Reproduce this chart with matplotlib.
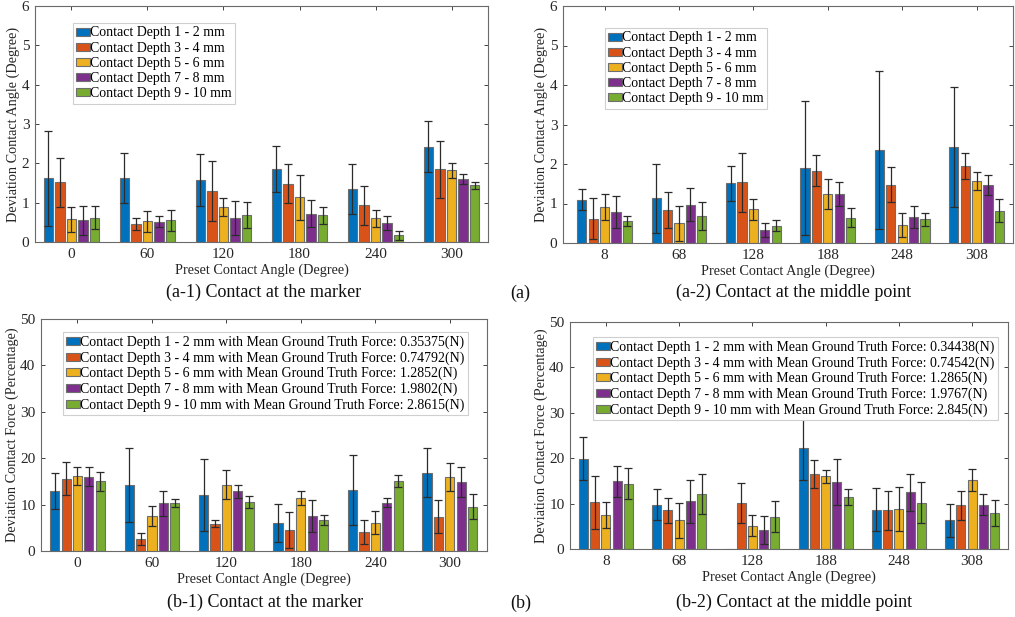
import numpy as np
import matplotlib
matplotlib.use("Agg")
import matplotlib.pyplot as plt

plt.rcParams['font.family'] = ['Liberation Serif', 'DejaVu Serif']

colors = ['#0072BD', '#D95319', '#EDB120', '#7E2F8E', '#77AC30']

ticks_a1 = ['0', '60', '120', '180', '240', '300']
ticks_a2 = ['8', '68', '128', '188', '248', '308']

legend_a = ['Contact Depth 1 - 2 mm', 'Contact Depth 3 - 4 mm', 'Contact Depth 5 - 6 mm',
            'Contact Depth 7 - 8 mm', 'Contact Depth 9 - 10 mm']
legend_b1 = ['Contact Depth 1 - 2 mm with Mean Ground Truth Force: 0.35375(N)',
             'Contact Depth 3 - 4 mm with Mean Ground Truth Force: 0.74792(N)',
             'Contact Depth 5 - 6 mm with Mean Ground Truth Force: 1.2852(N)',
             'Contact Depth 7 - 8 mm with Mean Ground Truth Force: 1.9802(N)',
             'Contact Depth 9 - 10 mm with Mean Ground Truth Force: 2.8615(N)']
legend_b2 = ['Contact Depth 1 - 2 mm with Mean Ground Truth Force: 0.34438(N)',
             'Contact Depth 3 - 4 mm with Mean Ground Truth Force: 0.74542(N)',
             'Contact Depth 5 - 6 mm with Mean Ground Truth Force: 1.2865(N)',
             'Contact Depth 7 - 8 mm with Mean Ground Truth Force: 1.9767(N)',
             'Contact Depth 9 - 10 mm with Mean Ground Truth Force: 2.845(N)']

# rows: depth series (1-2, 3-4, 5-6, 7-8, 9-10); columns: angle groups
a1_mean = [[1.62, 1.63, 1.58, 1.85, 1.35, 2.42],
           [1.52, 0.45, 1.30, 1.48, 0.93, 1.85],
           [0.58, 0.53, 0.88, 1.14, 0.60, 1.82],
           [0.55, 0.52, 0.62, 0.72, 0.48, 1.60],
           [0.62, 0.55, 0.68, 0.68, 0.17, 1.44]]
a1_err = [[1.21, 0.63, 0.66, 0.58, 0.64, 0.65],
          [0.62, 0.15, 0.77, 0.50, 0.50, 0.73],
          [0.32, 0.27, 0.23, 0.57, 0.21, 0.20],
          [0.37, 0.14, 0.43, 0.35, 0.17, 0.12],
          [0.29, 0.27, 0.33, 0.21, 0.11, 0.09]]

a2_mean = [[1.10, 1.13, 1.51, 1.89, 2.36, 2.43],
           [0.62, 0.83, 1.54, 1.83, 1.48, 1.96],
           [0.90, 0.50, 0.85, 1.23, 0.45, 1.58],
           [0.78, 0.97, 0.33, 1.24, 0.65, 1.47],
           [0.55, 0.69, 0.44, 0.64, 0.60, 0.82]]
a2_err = [[0.26, 0.87, 0.45, 1.70, 2.00, 1.51],
          [0.52, 0.46, 0.75, 0.39, 0.45, 0.33],
          [0.33, 0.44, 0.27, 0.38, 0.30, 0.23],
          [0.41, 0.41, 0.17, 0.30, 0.28, 0.26],
          [0.13, 0.36, 0.14, 0.24, 0.16, 0.29]]

b1_mean = [[12.9, 14.3, 12.1, 6.0, 13.1, 16.9],
           [15.6, 2.6, 5.9, 4.5, 4.1, 7.4],
           [16.2, 7.5, 14.3, 11.4, 6.1, 15.9],
           [16.0, 10.3, 12.9, 7.6, 10.4, 14.8],
           [15.0, 10.4, 10.5, 6.6, 15.1, 9.5]]
b1_err = [[3.9, 8.0, 7.8, 4.1, 7.5, 5.2],
          [3.6, 1.2, 0.7, 3.8, 2.5, 3.5],
          [1.9, 2.1, 3.2, 1.5, 2.5, 3.0],
          [2.0, 2.7, 1.4, 3.4, 1.0, 3.2],
          [2.1, 0.9, 1.3, 1.1, 1.2, 2.7]]

b2_mean = [[19.9, 9.8, np.nan, 22.2, 8.7, 6.3],
           [10.3, 8.5, 10.2, 16.5, 8.5, 9.6],
           [7.5, 6.3, 5.1, 16.0, 8.8, 15.2],
           [14.9, 10.5, 4.2, 14.7, 12.5, 9.8],
           [14.4, 12.1, 7.1, 11.4, 10.2, 7.9]]
b2_err = [[4.7, 3.5, np.nan, 6.9, 4.7, 3.7],
          [5.8, 2.8, 4.4, 3.1, 4.3, 3.2],
          [2.9, 3.9, 2.3, 1.4, 4.9, 2.4],
          [3.4, 4.7, 3.0, 5.1, 4.1, 2.3],
          [3.4, 4.4, 3.4, 1.8, 4.5, 2.9]]

W, H = 1015, 617
fig = plt.figure(figsize=(W / 100, H / 100), dpi=100)


def axes_px(x0, y0, x1, y1):
    return fig.add_axes([x0 / W, 1 - y1 / H, (x1 - x0) / W, (y1 - y0) / H])


def panel(ax, mean, err, ticks, ymax, ystep, ylabel, labels, leg_xy, xlim):
    x = np.arange(len(ticks))
    step, width = 0.153, 0.123
    for i in range(5):
        pos = x + (i - 2) * step
        m = np.array(mean[i], dtype=float)
        e = np.array(err[i], dtype=float)
        ax.bar(pos, np.nan_to_num(m), width, color=colors[i], edgecolor='#6e6e6e',
               linewidth=0.8, label=labels[i], zorder=2)
        ax.errorbar(pos, m, yerr=e, fmt='none', ecolor='#2b2b2b', elinewidth=0.9,
                    capsize=2.6, capthick=0.9, zorder=3)
    ax.set_xlim(*xlim)
    ax.set_ylim(0, ymax)
    ax.set_yticks(np.arange(0, ymax + 0.001, ystep))
    ax.set_xticks(x)
    ax.set_xticklabels(ticks)
    ax.tick_params(direction='in', top=True, right=True, length=3, width=0.6,
                   colors='#262626', labelsize=11, pad=4)
    for s in ax.spines.values():
        s.set_color('#6a6a6a')
        s.set_linewidth(0.8)
    ax.set_xlabel('Preset Contact Angle (Degree)', fontsize=10.3, color='#262626', labelpad=2)
    ax.set_ylabel(ylabel, fontsize=10.3, color='#262626', labelpad=1)
    leg = ax.legend(loc='upper left', bbox_to_anchor=(leg_xy[0] / W, 1 - leg_xy[1] / H),
                    bbox_transform=fig.transFigure, borderaxespad=0, fontsize=10,
                    handlelength=0.95, handleheight=0.5, handletextpad=0.05,
                    labelspacing=0.16, borderpad=0.25, fancybox=False, framealpha=1,
                    edgecolor='#cfcfcf')
    leg.get_frame().set_linewidth(0.8)


ax1 = axes_px(35, 6, 488, 242)
panel(ax1, a1_mean, a1_err, ticks_a1, 6, 1, 'Deviation Contact Angle (Degree)', legend_a,
      (73, 23), (-0.48, 5.48))
ax2 = axes_px(563, 6, 1013, 243)
panel(ax2, a2_mean, a2_err, ticks_a2, 6, 1, 'Deviation Contact Angle (Degree)', legend_a,
      (605, 28), (-0.56, 5.49))
ax3 = axes_px(41, 319, 487, 551)
panel(ax3, b1_mean, b1_err, ticks_a1, 50, 10, 'Deviation Contact Force (Percentage)', legend_b1,
      (63, 332), (-0.49, 5.5))
ax4 = axes_px(570, 322, 1008, 549)
panel(ax4, b2_mean, b2_err, ticks_a2, 50, 10, 'Deviation Contact Force (Percentage)', legend_b2,
      (593, 337), (-0.49, 5.49))

cap_kw = dict(fontsize=13, ha='center', va='center', color='#111111')
fig.text(264 / W, 1 - 292 / H, '(a-1) Contact at the marker', **cap_kw)
fig.text(794 / W, 1 - 292 / H, '(a-2) Contact at the middle point', **cap_kw)
fig.text(265 / W, 1 - 602 / H, '(b-1) Contact at the marker', **cap_kw)
fig.text(794 / W, 1 - 602 / H, '(b-2) Contact at the middle point', **cap_kw)
fig.text(510 / W, 1 - 293 / H, '(a)', fontsize=13, ha='left', va='center', color='#111111')
fig.text(510 / W, 1 - 603 / H, '(b)', fontsize=13, ha='left', va='center', color='#111111')

fig.savefig('out.png', dpi=100)
